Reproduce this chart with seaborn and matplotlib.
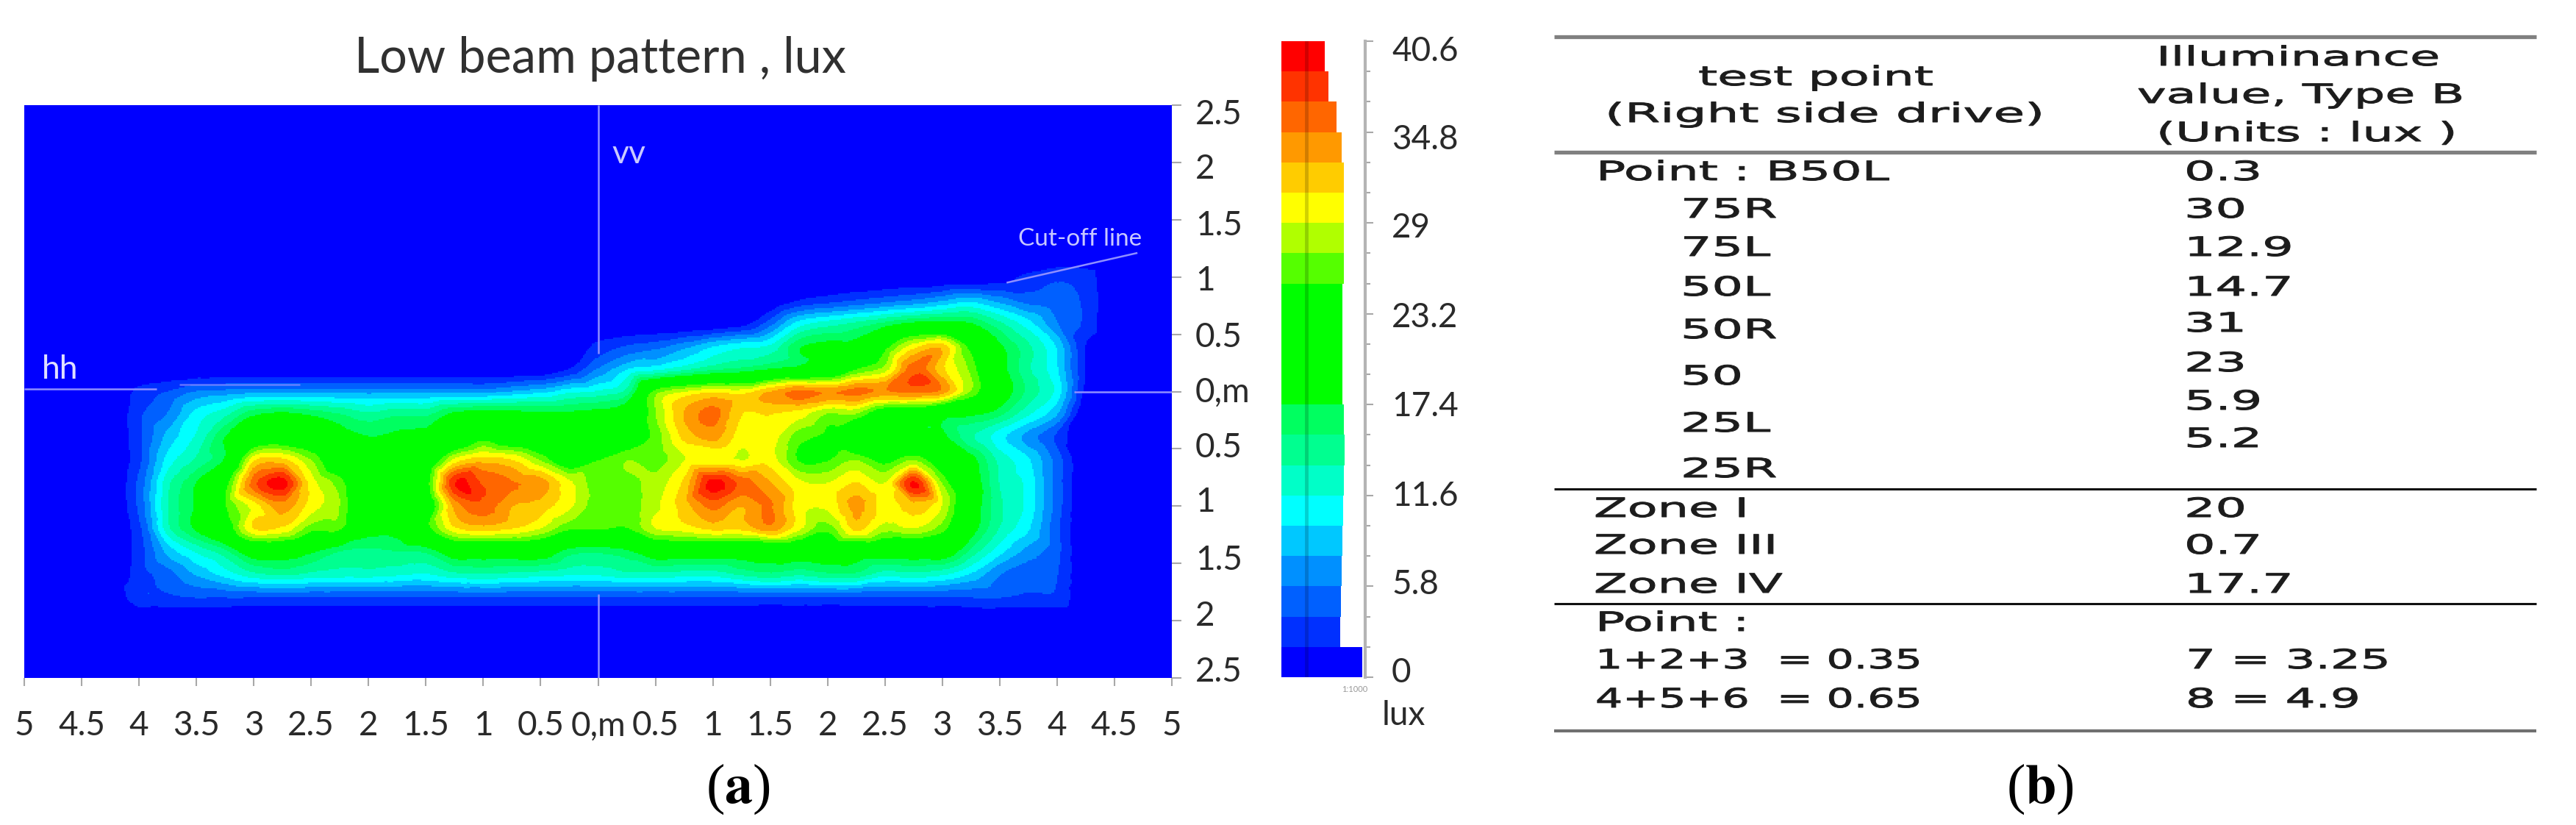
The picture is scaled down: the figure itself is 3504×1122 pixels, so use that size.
import numpy as np
import pandas as pd
import seaborn as sns
import matplotlib
matplotlib.use("Agg")
import matplotlib.pyplot as plt
import matplotlib.tri as mtri
import matplotlib.patheffects as pe
from matplotlib.colors import ListedColormap, BoundaryNorm
from matplotlib.transforms import Affine2D, ScaledTranslation

# ---------- data ----------
title = "Low beam pattern , lux"
x_tick_values = [-5, -4.5, -4, -3.5, -3, -2.5, -2, -1.5, -1, -0.5, 0, 0.5, 1, 1.5, 2, 2.5, 3, 3.5, 4, 4.5, 5]
x_tick_labels = ["5", "4.5", "4", "3.5", "3", "2.5", "2", "1.5", "1", "0.5", "0,m", "0.5", "1", "1.5", "2", "2.5", "3", "3.5", "4", "4.5", "5"]
y_tick_values = [2.5, 2, 1.5, 1, 0.5, 0, -0.5, -1, -1.5, -2, -2.5]
y_tick_labels = ["2.5", "2", "1.5", "1", "0.5", "0,m", "0.5", "1", "1.5", "2", "2.5"]

# illuminance (lux) at x = -4.25 ... 4.5 (step 0.25 m) for y = 1.0 ... -2.0 (step 0.2 m)
row_p10 = [0]*17 + [0,0,0,0,0,0,0,0,0,0,0,0,0,0,1,2.5,3.5,3,0]
row_p08 = [0]*17 + [0,0,0,0,0,0,0,2,3,4,5,6,7.5,9,7,5,4.5,3.5,0]
row_p06 = [0]*17 + [0,0,0,0,0,1,5,10.5,12.5,14,16,18,18.5,17.5,14,10.5,6,3.5,0]
row_p04 = [0]*17 + [2.5,4,5,7,9.5,11,12,17,18.5,19,24,30,32,24,18,14,9.5,2,0]
row_p02 = [0,0,0,0,0,0,0,0,0,0,0,0,0,0,0,0,2] + [6,9.5,11,13,15,16,17.5,18.5,20,25,28,36,31.5,26.5,19,14,10,2,0]
row_000 = [0,2.5,4,6,6.5,7,7,7,7,7,7,7,7,7,8,9,11] + [12,14.5,26,29,30.5,30,33,35.5,34.5,35.5,34.5,35.5,34,27,20,15,11,1.5,0]
row_m02 = [0,3.5,6,10.5,13,17,18,17,15.5,14,15,15,18,19,18.5,18,18] + [18.5,20,27,33,35.5,31,31,30,27,27,22,21,19,18,16,12,8,0,0]
row_m04 = [0,3.5,8.5,12,17.5,21,22,21,19,17.5,18,18.5,20,24,21,20,20] + [19,22,26,31.5,33.5,30,30,26,24.5,19,18,18,18,14,10.5,7,3.5,0,0]
row_m06 = [0,3.5,10.5,14,18,30.5,31.5,27,21,19,19,21,29.5,32,31,27,22] + [25,27,26,29,29.5,29,30,25,25,27,24,27,22,18.5,13,10,5,0,0]
row_m08 = [0,4.5,13,17.5,24,36,39.5,30,26,20,24.5,24,38.5,36.5,35,34,29.5] + [26,26.5,28,31.5,39.5,36,33,29.5,29,31,29,39,27,20,13.5,11,5,0,0]
row_m10 = [0,4.5,13.5,18,25,30,34,30,27,20,24,22,33.5,36,33,32,29.5] + [26,26,28.5,32,35.5,33,35,30,29.5,33.5,30,32,29,20,14,11,5,0,0]
row_m12 = [0,3.5,13,18,23,31,30.5,26,25.5,19,19,24,30.5,32,31,29,25.5] + [25.5,25,29,30,31.5,31.5,34,29.5,26,31.5,28,29,26,19,13.5,10,4.5,0,0]
row_m14 = [0,3,8.5,12,15,20,20,18,15.5,15,15.5,16,20,20,20,20,16.5] + [16,17,20,20,20,20,20,20,20,20,20,20,20,15,10.5,7,4.5,0,0]
row_m16 = [0,3,5,8,10.5,13,14,13,12.5,12.5,12,11.5,13,13.5,13,12.5,12] + [12,13,13,12.5,12.5,14,15,14,15,15,12.5,13,12,9.5,6,4.5,4,0,0]
row_m18 = [0,3.5,3.5,4,4,4,4,4,4,4,4,4,4,4,4,4,4] + [4,4,4,4,4,4,4,4,4,4,4,4,4,4,4,3.5,3.5,0,0]
row_m20 = [0]*36
lux_rows = [row_p10, row_p08, row_p06, row_p04, row_p02, row_000, row_m02, row_m04,
            row_m06, row_m08, row_m10, row_m12, row_m14, row_m16, row_m18, row_m20]

# colour scale: 21 bands from 0 to 40.6 lux, bottom to top
band_colors = ["#0000FF", "#0030FF", "#0060FF", "#0090FF", "#00C8FF", "#00FFFF", "#00FFC8",
               "#00FF90", "#00FF60", "#00FF00", "#00FF00", "#00FF00", "#00FF00", "#55FF00",
               "#B0FF00", "#FFFF00", "#FFCC00", "#FF9900", "#FF6600", "#FF3300", "#FF0000"]
band_names = [f"b{i}" for i in range(21)]
band_widths = [110, 80, 81, 82, 83, 84, 85, 86, 85, 83, 83, 83, 83, 85, 85, 85, 85, 82, 75, 64, 59]
scale_tick_labels = ["0", "5.8", "11.6", "17.4", "23.2", "29", "34.8", "40.6"]

header_left = ["test point", "(Right side drive)"]
header_right = ["Illuminance", "value, Type B", "(Units : lux )"]
names_1 = ["Point : B50L", "75R", "75L", "50L", "50R", "50", "25L", "25R"]
values_1 = ["0.3", "30", "12.9", "14.7", "31", "23", "5.9", "5.2"]
names_2 = ["Zone I", "Zone III", "Zone IV"]
values_2 = ["20", "0.7", "17.7"]
names_3 = ["Point :", "1+2+3  = 0.35", "4+5+6  = 0.65"]
values_3 = ["7 = 3.25", "8 = 4.9"]

# ---------- figure ----------
W, H = 3504, 1122
sns.set_theme(style="white")
plt.rcParams["font.family"] = ["Lato", "DejaVu Sans"]
plt.rcParams["mathtext.fontset"] = "stix"
fig = plt.figure(figsize=(W / 100, H / 100), dpi=100, facecolor="white")


def axes_px(left, top, right, bottom):
    return fig.add_axes([left / W, 1 - bottom / H, (right - left) / W, (bottom - top) / H])


def shift_labels(labels, offsets_px):
    for lab, off in zip(labels, offsets_px):
        lab.set_transform(lab.get_transform() + ScaledTranslation(0, -off / 100, fig.dpi_scale_trans))


TXT = "#2a2a2a"
TICK = "#a8a8a8"
LINE = "#8f8fff"

# ---------- map ----------
pad_left, pad_right = 3, 2
pad_top, pad_bottom = 8, 3
field = np.pad(np.array(lux_rows, dtype=float), ((pad_top, pad_bottom), (pad_left, pad_right)))
cx = np.arange(field.shape[1]) * 0.25 - 5.0
cy = 2.6 - np.arange(field.shape[0]) * 0.2
CX, CY = np.meshgrid(cx, cy)
tri_mesh = mtri.Triangulation(CX.ravel(), CY.ravel())
smooth = mtri.CubicTriInterpolator(tri_mesh, field.ravel(), kind="geom")
nx, ny = 780, 390
fx = np.linspace(-5, 5, nx)
fy = np.linspace(2.5, -2.5, ny)
FX, FY = np.meshgrid(fx, fy)
fine = np.clip(np.ma.filled(smooth(FX, FY), 0.0), 0, 40.6)
frame = pd.DataFrame(fine, index=fy, columns=fx)

levels = np.linspace(0, 40.6, 22)
ax = axes_px(33, 143, 1594, 922)
sns.heatmap(frame, cmap=ListedColormap(band_colors), norm=BoundaryNorm(levels, 21),
            cbar=False, xticklabels=False, yticklabels=False, ax=ax, rasterized=True)
px = lambda v: (np.asarray(v, dtype=float) + 5) / 10 * nx
py = lambda v: (2.5 - np.asarray(v, dtype=float)) / 5 * ny
ax.set_xlim(0, nx)
ax.set_ylim(ny, 0)
ax.set_xlabel("")
ax.set_ylabel("")
ax.set_xticks(px(x_tick_values), x_tick_labels)
ax.yaxis.tick_right()
ax.set_yticks(py(y_tick_values), y_tick_labels)
ax.tick_params(axis="x", bottom=True, length=8, width=1.5, color=TICK, pad=24, labelsize=33, labelcolor=TXT)
ax.tick_params(axis="y", right=True, left=False, length=9, width=1.5, color=TICK, pad=14,
               labelsize=33, labelcolor=TXT)
for lab in ax.get_yticklabels():
    lab.set_va("center")
shift_labels(ax.get_yticklabels(), [13, 9, 8, 5, 4, 1, -1, -5, -4, -6, -8])
for s in ax.spines.values():
    s.set_visible(False)

for (xs, ys, a) in [([0, 0], [2.5, 0.33], 1), ([0, 0], [-1.77, -2.5], 1), ([-5, -3.85], [0.02, 0.02], 1),
                    ([-3.65, -2.6], [0.06, 0.06], 0.7), ([4.15, 5], [0, 0], 1), ([3.56, 4.7], [0.95, 1.21], 1)]:
    ax.plot(px(xs), py(ys), color=LINE, lw=1.8, alpha=a, solid_capstyle="butt")
ax.text(px(0.12), py(2.07), "vv", color="#c8c8ff", fontsize=32, ha="left", va="center")
ax.text(px(-4.85), py(0.19), "hh", color="#e0e0ff", fontsize=32, ha="left", va="center")
ax.text(px(3.66), py(1.33), "Cut-off line", color="#c8c8ff", fontsize=24, ha="left", va="center")

# ---------- colour scale ----------
cax = axes_px(1743, 56, 1857, 921)
sns.barplot(x=band_widths, y=band_names, hue=band_names, palette=dict(zip(band_names, band_colors)),
            order=band_names, hue_order=band_names, dodge=False, legend=False, width=1, saturation=1,
            linewidth=0, orient="h", ax=cax)
cax.set_xlim(0, 114)
cax.set_ylim(-0.5, 20.5)
cax.set_xlabel("")
cax.set_ylabel("")
cax.set_xticks([])
cax.yaxis.tick_right()
cax.set_yticks(np.arange(-0.5, 21, 3), scale_tick_labels)
cax.set_yticks(np.arange(-0.5, 21, 1), minor=True)
cax.tick_params(axis="y", which="major", right=True, left=False, length=8, width=1.5, color=TICK, pad=18,
                labelsize=33, labelcolor=TXT)
cax.tick_params(axis="y", which="minor", right=True, left=False, length=5, width=1.5, color=TICK)
for lab in cax.get_yticklabels():
    lab.set_va("center")
shift_labels(cax.get_yticklabels(), [-6, -2, 1, 3, 5, 7, 10, 14])
for name, s in cax.spines.items():
    s.set_visible(name == "right")
cax.spines["right"].set_color("#b4b4b4")
cax.spines["right"].set_linewidth(3)
cax.axvline(34, color="black", alpha=0.18, lw=3.5)
cax.set_facecolor("none")

# ---------- overlay in pixel coordinates ----------
ov = fig.add_axes([0, 0, 1, 1], facecolor="none")
ov.set_xlim(0, W)
ov.set_ylim(H, 0)
ov.axis("off")


class StretchX(pe.AbstractPathEffect):
    """Widen a text horizontally about its start and thicken it a little, as in the source image."""

    def __init__(self, factor):
        super().__init__()
        self.factor = factor

    def draw_path(self, renderer, gc, tpath, affine, rgbFace=None):
        x0 = affine.get_matrix()[0, 2]
        wide = affine + Affine2D().translate(-x0, 0).scale(self.factor, 1).translate(x0, 0)
        gc0 = renderer.new_gc()
        gc0.copy_properties(gc)
        gc0.set_linewidth(0.7)
        gc0.set_foreground(rgbFace)
        renderer.draw_path(gc0, tpath, wide, rgbFace)
        gc0.restore()


def cell(x, y, s, factor=1.85):
    ov.text(x, y, s, fontsize=26, family="DejaVu Sans", color="#1c1c1c", ha="left", va="center",
            path_effects=[StretchX(factor)])


ov.text(816, 80, title, fontsize=48, color="#303030", ha="center", va="center")
ov.text(1909, 973, "lux", fontsize=33, color=TXT, ha="center", va="center")
ov.text(1843, 937, "1:1000", fontsize=8, color="#999999", ha="center", va="center")
ov.text(1004, 1073, r"($\mathbf{a}$)", fontsize=55, family="Liberation Serif", color="black", ha="center", va="center")
ov.text(2775, 1073, r"($\mathbf{b}$)", fontsize=55, family="Liberation Serif", color="black", ha="center", va="center")

for y, c, lw in [(50, "#808080", 3.8), (207, "#808080", 3.8), (665, "#111111", 2.2),
                 (821, "#111111", 2.2), (994, "#707070", 3)]:
    ov.plot([2114, 3450], [y, y], color=c, lw=lw, solid_capstyle="butt")

for s, x, y, f in zip(header_left, [2310, 2183], [106, 156], [1.85, 1.92]):
    cell(x, y, s, f)
for s, x, y in zip(header_right, [2933, 2907, 2933], [79, 130, 182]):
    cell(x, y, s)
for s, x, y in zip(names_1, [2171] + [2286] * 7, [235, 286, 338, 392, 450, 513, 577, 639]):
    cell(x, y, s)
for s, y in zip(values_1, [235, 286, 338, 392, 441, 495, 547, 598]):
    cell(2971, y, s)
for s, v, y in zip(names_2, values_2, [693, 743, 796]):
    cell(2168, y, s)
    cell(2971, y, v)
for s, y, f in zip(names_3, [848, 899, 952], [1.85, 1.62, 1.62]):
    cell(2170, y, s, f)
for s, y in zip(values_3, [899, 952]):
    cell(2973, y, s, 1.78)

fig.savefig("out.png", dpi=100, facecolor="white")
